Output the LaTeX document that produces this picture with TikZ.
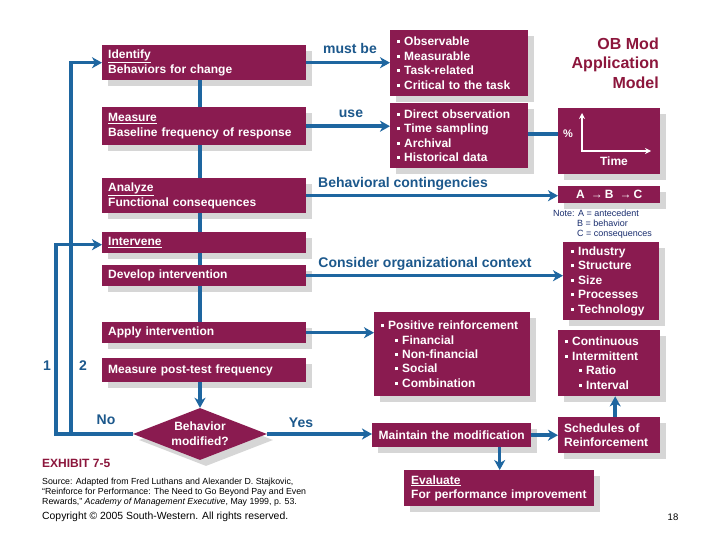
\documentclass[tikz,border=0pt]{standalone}
\usepackage{fontspec}
\setmainfont{Liberation Sans}
\usetikzlibrary{shapes.geometric,arrows.meta,shadows}
\definecolor{boxred}{RGB}{138,27,80}
\definecolor{titlered}{RGB}{140,22,60}
\definecolor{flowblue}{RGB}{30,102,160}
\definecolor{lblblue}{RGB}{28,88,140}
\definecolor{notenavy}{RGB}{25,45,110}
\definecolor{shgray}{RGB}{214,214,214}
\newcommand{\bul}{\rule[2.5pt]{3pt}{3pt}\hspace{4pt}}
\newcommand{\subbul}{\hspace{14pt}\bul}
\begin{document}
\begin{tikzpicture}[x=1pt,y=-1pt,
  box/.style={fill=boxred, draw=none, text=white,
    font=\bfseries\fontsize{12}{14.4}\selectfont,
    drop shadow={shadow xshift=6pt,shadow yshift=-6pt,fill=shgray,opacity=1},
    inner xsep=6pt, inner ysep=0pt, align=left, anchor=north west},
  mainbox/.style={box, text width=192pt, font=\bfseries\fontsize{12}{14.5}\selectfont},
  flow/.style={draw=flowblue, line width=3.5pt},
  arr/.style={flow, -{Stealth[length=10pt,width=11pt,inset=3pt]}},
  lbl/.style={text=lblblue, font=\bfseries\fontsize{14}{16}\selectfont, inner sep=0pt},
  axis/.style={draw=white, line width=2pt, -{Stealth[length=6pt,width=6pt]}},
  notetext/.style={text=notenavy, font=\fontsize{9}{10}\selectfont, anchor=west, inner sep=0pt},
]
\fill[white] (0,0) rectangle (720,540);
\useasboundingbox (0,0) rectangle (720,540);

% ---------- main column ----------
\node[mainbox, minimum height=35pt] (identify) at (102,45) {\underline{Identify}\\Behaviors for change};
\node[mainbox, minimum height=38pt] (measure) at (102,107) {\underline{Measure}\\Baseline frequency of response};
\node[mainbox, minimum height=35pt] (analyze) at (102,178) {\underline{Analyze}\\Functional consequences};
\node[mainbox, minimum height=21pt] (intervene) at (102,232) {\underline{Intervene}};
\node[mainbox, minimum height=21pt] (develop) at (102,265) {Develop intervention};
\node[mainbox, minimum height=21pt] (apply) at (102,322) {Apply intervention};
\node[mainbox, minimum height=24pt] (mpost) at (102,358) {Measure post-test frequency};
\node[diamond, fill=boxred, draw=none, inner sep=0pt, minimum width=134pt, minimum height=52pt,
  drop shadow={shadow xshift=6pt,shadow yshift=-6pt,fill=shgray,opacity=1}] (dia) at (200,434) {};
\node[text=white, font=\bfseries\fontsize{12}{15}\selectfont, align=center, inner sep=0pt] (diatext) at (dia.center) {Behavior\\modified?};

% ---------- right side boxes ----------
\node[box, text width=124pt, minimum height=66pt, inner xsep=7pt] (mustbox) at (390,30)
  {\bul Observable\\\bul Measurable\\\bul Task-related\\\bul Critical to the task};
\node[box, text width=124pt, minimum height=65pt, inner xsep=7pt] (usebox) at (390,103)
  {\bul Direct observation\\\bul Time sampling\\\bul Archival\\\bul Historical data};
\node[box, text width=102pt, minimum height=66pt, inner xsep=0pt] (graph) at (558,108) {};
\node[box, text width=102pt, minimum height=17pt, inner xsep=0pt, align=center] (abc) at (558,186)
  {A \,→\,B \,→\,C};
\node[box, text width=80pt, minimum height=78pt, inner xsep=8pt] (industry) at (563,242)
  {\bul Industry\\\bul Structure\\\bul Size\\\bul Processes\\\bul Technology};
\node[box, text width=142pt, minimum height=84pt, inner xsep=7pt] (posrein) at (374,312)
  {\bul Positive reinforcement\\\subbul Financial\\\subbul Non-financial\\\subbul Social\\\subbul Combination};
\node[box, text width=88pt, minimum height=66pt, inner xsep=7pt] (contin) at (558,330)
  {\bul Continuous\\\bul Intermittent\\\subbul Ratio\\\subbul Interval};
\node[box, text width=159pt, minimum height=24pt, inner xsep=0pt, align=center] (maintain) at (372,423)
  {Maintain the modification};
\node[box, text width=90pt, minimum height=36pt] (sched) at (558,417)
  {Schedules of\\Reinforcement};
\node[box, text width=176pt, minimum height=36pt, inner xsep=7pt] (evaluate) at (404,470)
  {\underline{Evaluate}\\For performance improvement};

% ---------- graph inside ----------
\coordinate (gorig) at (582,151);
\coordinate (gtop) at (582,113);
\coordinate (gright) at (651,151);
\draw[axis] (gorig) -- (gtop);
\draw[axis] ([xshift=-1pt]gorig) -- (gright);
\node[text=white, font=\bfseries\fontsize{11}{13}\selectfont, inner sep=0pt] (pct) at (568,134) {\%};
\node[text=white, font=\bfseries\fontsize{12}{14}\selectfont, inner sep=0pt] (time) at (614,161) {Time};

% ---------- spine ----------
\draw[flow] ([xshift=-4pt]identify.south) -- ([xshift=-4pt]measure.north);
\draw[flow] ([xshift=-4pt]measure.south) -- ([xshift=-4pt]analyze.north);
\draw[flow] ([xshift=-4pt]analyze.south) -- ([xshift=-4pt]intervene.north);
\draw[flow] ([xshift=-4pt]intervene.south) -- ([xshift=-4pt]develop.north);
\draw[flow] ([xshift=-4pt]develop.south) -- ([xshift=-4pt]apply.north);
\draw[arr] (mpost.south -| dia.north) -- (dia.north);

% ---------- horizontal connectors ----------
\draw[arr] (identify.east) -- (identify.east -| mustbox.west);
\draw[arr] (measure.east) -- (measure.east -| usebox.west);
\draw[flow] ([yshift=1.5pt]usebox.east) -- ([yshift=1.5pt]usebox.east -| graph.west);
\draw[arr] (analyze.east) -- (analyze.east -| abc.west);
\draw[arr] (develop.east) -- (develop.east -| industry.west);
\draw[arr] (apply.east) -- (apply.east -| posrein.west);
\draw[arr] (dia.east) -- (dia.east -| maintain.west);
\draw[arr] (maintain.east) -- (maintain.east -| sched.west);
\draw[arr] ([xshift=6pt]sched.north) -- ([xshift=6pt]sched.north |- contin.south);
\draw[arr] ([xshift=48pt]maintain.south) -- ([xshift=48pt]maintain.south |- evaluate.north);

% ---------- feedback loops ----------
\coordinate (fbone) at (56,0);
\coordinate (fbtwo) at (71,0);
\draw[arr] (dia.west) -- (dia.west -| fbone) |- ([yshift=-2pt]intervene.west);
\draw[arr] (dia.west -| fbtwo) |- (identify.west);

% ---------- labels ----------
\node[lbl] (lmust) at (350,48) {must be};
\node[lbl] (luse) at (351,114) {use};
\node[lbl] (lcont) at (403,184) {Behavioral contingencies};
\node[lbl] (lorg) at (425,264) {Consider organizational context};
\node[lbl] (lyes) at (301,423) {Yes};
\node[lbl] (lno) at (106,420) {No};
\node[lbl] (lone) at (47,366) {1};
\node[lbl] (ltwo) at (83,366) {2};

\node[text=titlered, font=\bfseries\fontsize{16}{19.5}\selectfont, align=right, anchor=east, inner sep=0pt] (title) at (659,63) {OB Mod\\Application\\Model};

\node[notetext] (note1) at (553,213) {Note: A = antecedent};
\node[notetext] (note2) at (577,223.5) {B = behavior};
\node[notetext] (note3) at (577,234) {C = consequences};

\node[text=titlered, font=\bfseries\fontsize{12}{14}\selectfont, anchor=west, inner sep=0pt] (exhibit) at (42,463) {EXHIBIT 7-5};
\node[font=\fontsize{8.8}{10}\selectfont, anchor=north west, align=left, inner sep=0pt] (source) at (42,478)
  {Source: Adapted from Fred Luthans and Alexander D. Stajkovic,\\
   “Reinforce for Performance: The Need to Go Beyond Pay and Even\\
   Rewards,” \textit{Academy of Management Executive}, May 1999, p. 53.};
\node[font=\fontsize{10.4}{12}\selectfont, anchor=west, inner sep=0pt] (copy) at (42,517) {Copyright © 2005 South-Western. All rights reserved.};
\node[font=\fontsize{9.5}{11}\selectfont, inner sep=0pt] (page) at (673,517) {18};
\end{tikzpicture}
\end{document}
